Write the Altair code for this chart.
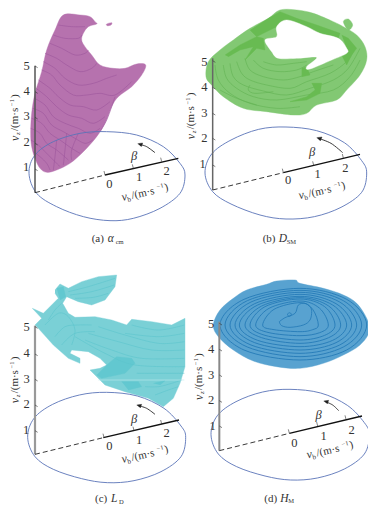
import altair as alt
import pandas as pd

# Frames of the picture the readings below are given in (3x crop units)
ORIGIN = {"a": (0, 0), "b": (186, 0), "c": (0, 260), "d": (186, 260),
          "b2": (200, 5), "c2": (25, 270), "d2": (210, 275)}

BLOB_A = [(190,45),(240,45),(270,50),(285,65),(290,72),(265,80),(250,100),(245,120),(255,140),(275,165),(300,195),(340,205),(375,205),(410,192),(437,195),(425,225),(395,260),(355,290),(335,320),(315,370),(290,410),(250,455),(210,490),(170,510),(140,517),(120,505),(105,475),(95,440),(92,400),(95,340),(105,280),(125,215),(140,150),(165,90)]
BLOB_A2 = [(320,72),(335,68),(333,75),(322,77)]
LINES_A = [
 [(175,75),(215,80),(255,80)],
 [(160,105),(195,115),(235,115),(245,105)],
 [(150,130),(185,145),(225,165),(255,160),(265,150)],
 [(135,160),(170,175),(200,195),(240,215),(275,205),(290,190)],
 [(130,185),(165,205),(195,235),(235,255),(280,250),(320,235),(350,225)],
 [(125,210),(155,225),(180,255),(220,285),(260,285),(300,280),(345,285),(395,245)],
 [(115,240),(150,265),(175,290),(210,315),(250,320),(290,330),(330,305)],
 [(108,265),(140,290),(170,320),(205,345),(245,355),(280,370),(315,350)],
 [(103,295),(135,315),(160,350),(195,370),(235,385),(270,400),(300,385)],
 [(98,325),(130,340),(155,375),(190,395),(225,415),(255,430),(278,420)],
 [(95,355),(125,370),(150,400),(180,420),(215,445),(240,460)],
 [(92,385),(120,400),(140,430),(170,450),(205,480)],
 [(93,420),(115,435),(135,455),(160,480),(180,500)],
 [(100,455),(120,470),(140,490),(150,510)],
 [(170,420),(165,470),(160,510)],
 [(200,400),(195,450),(190,495)],
 [(235,400),(215,450),(215,480)],
 [(345,290),(335,320),(320,360),(300,395)],
]
BLOB_B = [(18,215),(25,170),(60,135),(100,105),(150,70),(205,40),(240,15),(290,15),(340,25),(400,50),(430,65),(470,90),(495,125),(500,165),(480,210),(440,255),(410,285),(350,300),(320,325),(280,330),(200,320),(130,310),(70,275),(35,240)]
BUMP_B = [(430,50),(445,42),(458,60),(445,75)]
PATCHES_B = [
 [(205,40),(240,20),(290,40),(350,60),(420,85),(415,100),(360,85),(320,65),(260,45),(230,65),(190,85),(170,95),(150,75)],
 [(75,150),(120,120),(170,95),(190,100),(195,135),(170,130),(135,165),(160,125),(120,135),(85,155)],
 [(425,90),(445,100),(470,130),(455,150),(440,180),(425,150),(440,130)],
 [(305,190),(320,185),(330,210),(305,215)],
 [(335,235),(365,235),(360,265),(320,285),(270,290),(320,275),(345,255)],
]
HOLE_B = [(260,45),(320,65),(360,85),(415,100),(440,130),(440,145),(395,165),(330,192),(320,185),(350,157),(290,160),(235,160),(215,140),(195,105),(230,95),(230,65)]
LINES_B = [
 [(45,180),(55,225),(90,265),(150,295),(230,310),(300,305)],
 [(70,180),(80,220),(110,250),(160,275),(230,285),(320,270),(400,255),(450,215),(480,165)],
 [(90,175),(100,215),(130,240),(190,258),(260,270),(330,250),(400,225),(445,190),(480,130)],
 [(110,170),(125,205),(150,225),(200,240),(270,250),(320,230),(390,205),(440,170),(460,140)],
 [(135,160),(150,195),(190,215),(250,225),(300,215),(340,200),(400,180)],
 [(160,165),(190,190),(240,200),(290,195),(320,180)],
 [(190,170),(230,180),(280,175),(320,170)],
 [(60,255),(110,280),(170,300)],
 [(150,240),(145,255),(165,265),(220,260)],
]
BLOB_C = [(90,60),(105,42),(130,55),(170,35),(220,20),(275,15),(270,50),(240,90),(200,105),(160,95),(125,80),(113,100),(130,130),(150,142),(210,140),(260,150),(305,165),(320,148),(380,155),(440,165),(480,145),(480,290),(465,340),(445,385),(415,410),(370,385),(300,365),(240,345),(195,300),(225,295),(245,285),(225,265),(190,245),(140,240),(135,250),(165,265),(165,280),(130,265),(85,225),(40,175),(30,165),(50,145),(22,115),(55,130),(85,100),(100,85),(90,70)]
PATCHES_C = [
 [(245,285),(275,260),(320,265),(330,280),(300,310),(230,325),(215,315)],
 [(290,335),(340,335),(350,350),(310,360)],
 [(385,340),(420,332),(405,345)],
 [(95,55),(115,50),(122,80),(105,90)],
]
LINES_C = [
 [(130,65),(190,50),(270,25)],
 [(135,75),(200,65),(268,45)],
 [(150,85),(205,82),(250,70)],
 [(320,165),(400,180),(478,165)],
 [(300,190),(400,200),(478,190)],
 [(220,170),(300,195),(400,220),(478,215)],
 [(190,190),(280,215),(380,240),(478,240)],
 [(180,210),(260,240),(350,265),(478,265)],
 [(150,200),(240,250),(330,285),(478,290)],
 [(335,310),(400,310),(478,310)],
 [(360,350),(400,350),(440,340),(470,330)],
 [(390,375),(430,360),(460,350)],
 [(70,150),(90,120),(110,100)],
 [(60,165),(100,130),(130,140),(150,180),(140,225)],
 [(90,200),(120,170),(160,165),(200,165)],
 [(110,225),(150,190),(210,185)],
]
SEAM_C = [(220,330),(478,330)]
BLOB_D = [(10,150),(30,105),(70,70),(110,45),(170,28),(200,18),(255,15),(270,25),(340,40),(400,60),(440,85),(470,130),(478,170),(450,210),(400,240),(340,265),(270,280),(200,275),(130,258),(70,225),(25,185)]
RINGS_D = [
 [(30,150),(102,73),(270,40),(410,73),(470,150),(410,225),(270,255),(102,225)],
 [(45,150),(112,77),(270,46),(400,77),(455,150),(400,216),(270,245),(112,216)],
 [(60,150),(123,81),(270,52),(389,81),(440,150),(389,210),(270,235),(123,210)],
 [(75,150),(134,86),(270,58),(378,86),(425,150),(378,203),(270,225),(134,203)],
 [(88,150),(143,90),(270,64),(368,90),(410,150),(368,196),(270,215),(143,196)],
 [(105,150),(155,93),(270,68),(356,93),(392,150),(356,188),(270,205),(155,188)],
 [(120,150),(165,95),(270,72),(344,95),(375,150),(344,181),(270,195),(165,181)],
 [(137,150),(177,100),(270,78),(329,100),(355,150),(329,173),(270,182),(177,173)],
 [(158,150),(192,103),(270,83),(308,103),(325,150),(308,164),(270,170),(192,164)],
]
SQUIGGLE_D = [(208,140),(225,128),(255,115),(265,90),(285,85),(300,95),(305,110),(300,135),(280,150),(240,157),(215,152),(208,140)]
SPOT_D = [(232,117),(240,113),(244,120),(236,124),(232,117)]

ELLIPSE_A = [(87,520),(105,465),(160,425),(240,400),(320,395),(410,405),(490,440),(540,490),(555,525),(540,580),(480,625),(400,655),(330,662),(250,650),(170,620),(110,580)]
ELLIPSE_B = [(57,519),(77,462),(135,420),(218,388),(300,381),(392,392),(475,428),(527,482),(542,519),(527,577),(465,622),(385,650),(300,657),(222,645),(135,612),(80,575)]
ELLIPSE_C = [(83,532),(102,475),(158,433),(238,405),(320,397),(412,408),(492,445),(543,498),(557,532),(543,590),(483,635),(402,662),(322,668),(245,656),(160,628),(105,590)]
ELLIPSE_D = [(75,524),(94,467),(150,425),(230,396),(312,388),(404,399),(484,436),(535,488),(550,524),(535,582),(475,627),(394,654),(314,660),(237,648),(152,620),(97,582)]

AXES = {
 "a": dict(top=(105,197), foot=(105,578), zero=(315,525), end=(535,475), w=1.5, col="#555555",
      arrow=[(465,458),(440,440),(418,433)], head=[(413,431),(428,429),(424,440)],
      ticks=[(315,525),(400,505),(485,485)], zt=[198,275,352,430,507],
      zl=[(80,197,"5"),(80,272,"4"),(80,349,"3"),(80,427,"2"),(78,502,"1")],
      bl=[(328,552,"0"),(417,531,"1"),(500,513,"2")], beta=(402,468),
      vz=(44,423), vb=(365,597), cap=(275,718,"(a) ","α","cm")),
 "b": dict(top=(80,175), foot=(80,570), zero=(292,518), end=(522,463), w=1.5, col="#666666",
      arrow=[(470,458),(435,430),(397,415)], head=[(392,413),(408,411),(403,423)],
      ticks=[(292,518),(383,496),(472,474)], zt=[182,262,340,415,495],
      zl=[(55,187,"5"),(55,262,"4"),(55,338,"3"),(55,414,"2"),(50,491,"1")],
      bl=[(306,541,"0"),(395,523,"1"),(478,505,"2")], beta=(378,457),
      vz=(15,418), vb=(338,592), cap=(230,718,"(b) ","D","SM")),
 "c": dict(top=(105,197), foot=(105,583), zero=(310,533), end=(537,480), w=2.2, col="#999999",
      arrow=[(465,463),(440,445),(415,437)], head=[(410,435),(425,433),(421,444)],
      ticks=[(312,533),(402,512),(485,492)], zt=[200,282,358,435,512],
      zl=[(80,201,"5"),(80,280,"4"),(80,356,"3"),(80,433,"2"),(78,509,"1")],
      bl=[(328,558,"0"),(417,539,"1"),(500,520,"2")], beta=(402,477),
      vz=(45,430), vb=(365,603), cap=(285,718,"(c) ","L","D")),
 "d": dict(top=(100,185), foot=(100,572), zero=(310,520), end=(528,468), w=2.0, col="#888888",
      arrow=[(458,452),(440,435),(418,425)], head=[(413,423),(428,421),(424,432)],
      ticks=[(310,520),(395,498),(480,478)], zt=[190,268,345,422,498],
      zl=[(75,193,"5"),(75,267,"4"),(75,345,"3"),(75,420,"2"),(80,497,"1")],
      bl=[(325,550,"0"),(413,529,"1"),(497,511,"2")], beta=(398,465),
      vz=(38,420), vb=(362,590), cap=(235,716,"(d) ","H","M")),
}

X = alt.X("x:Q", scale=alt.Scale(domain=[8, 368]), axis=None)
Y = alt.Y("y:Q", scale=alt.Scale(domain=[505, 8]), axis=None)


def pt(panel, p):
    ox, oy = ORIGIN[panel]
    return ox + p[0] / 3, oy + p[1] / 3


def table(panel, shapes):
    rows = []
    for k, s in enumerate(shapes):
        for i, p in enumerate(s):
            x, y = pt(panel, p)
            rows.append({"x": x, "y": y, "id": k, "i": i})
    return pd.DataFrame(rows)


def fills(panel, shapes, color, curve="linear"):
    return alt.Chart(table(panel, shapes)).mark_line(
        fill=color, stroke=color, strokeWidth=0.4, interpolate=curve
    ).encode(x=X, y=Y, detail="id:N", order="i:Q")


def strokes(panel, shapes, color, width=0.7, curve="monotone", dash=None):
    kw = dict(stroke=color, strokeWidth=width, interpolate=curve)
    if dash:
        kw["strokeDash"] = dash
    return alt.Chart(table(panel, shapes)).mark_line(**kw).encode(
        x=X, y=Y, detail="id:N", order="i:Q"
    )


def texts(rows, size=11, style="normal", angle=0, align="center", color="#333333"):
    return alt.Chart(pd.DataFrame(rows)).mark_text(
        font="Liberation Serif", fontSize=size, fontStyle=style, angle=angle,
        align=align, baseline="middle", color=color
    ).encode(x=X, y=Y, text="t:N")


layers = []

# surfaces
layers += [fills("a", [BLOB_A, BLOB_A2], "#b672ae", "cardinal-closed"),
           strokes("a", LINES_A, "#9c559c", 0.6, "cardinal")]
layers += [fills("b2", [BLOB_B, BUMP_B], "#82c873", "cardinal-closed"),
           strokes("b2", LINES_B, "#62b152", 0.6, "cardinal"),
           fills("b2", PATCHES_B, "#68bb52"),
           fills("b2", [HOLE_B], "#ffffff", "cardinal-closed")]
layers += [fills("c2", [BLOB_C], "#7ad0d6"),
           fills("c2", PATCHES_C, "#62c8d0"),
           strokes("c2", LINES_C, "#5cc4cc", 0.6, "cardinal"),
           strokes("c2", [SEAM_C], "#c0e9ec", 0.6, "linear")]
layers += [fills("d2", [BLOB_D], "#58a2d0", "cardinal-closed"),
           strokes("d2", RINGS_D, "#2279b6", 0.85, "cardinal-closed"),
           strokes("d2", [SQUIGGLE_D, SPOT_D], "#2279b6", 0.8, "cardinal")]

# polar base, axes, labels
ELLIPSES = {"a": ELLIPSE_A, "b": ELLIPSE_B, "c": ELLIPSE_C, "d": ELLIPSE_D}
for key, ax in AXES.items():
    layers.append(strokes(key, [ELLIPSES[key]], "#5a74b8", 0.9, "cardinal-closed"))
    layers.append(strokes(key, [[ax["top"], ax["foot"]]], ax["col"], ax["w"], "linear"))
    layers.append(strokes(key, [[ax["foot"], ax["zero"]]], "#222222", 0.9, "linear", [5, 3]))
    layers.append(strokes(key, [[ax["zero"], ax["end"]]], "#111111", 1.3, "linear"))
    layers.append(strokes(key, [ax["arrow"]], "#222222", 0.9, "cardinal"))
    layers.append(fills(key, [ax["head"]], "#222222"))
    tick_b = [[(x, y), (x - 3, y - 12)] for x, y in ax["ticks"]]
    tick_z = [[(ax["top"][0], z), (ax["top"][0] + 8, z + 5)] for z in ax["zt"]]
    layers.append(strokes(key, tick_b + tick_z, "#333333", 0.6, "linear"))

    nums = []
    for x, y, t in ax["zl"] + ax["bl"]:
        px, py = pt(key, (x, y))
        nums.append({"x": px, "y": py, "t": t})
    layers.append(texts(nums, 12.5))
    bx, by = pt(key, ax["beta"])
    layers.append(texts([{"x": bx, "y": by, "t": "β"}], 12.5, "italic"))

    # rotated vz label, pieces running upward
    zx, zy = pt(key, ax["vz"])
    layers.append(texts([{"x": zx, "y": zy, "t": "v"}], 12, "italic", 270, "left"))
    layers.append(texts([{"x": zx + 3, "y": zy - 6, "t": "z"}], 7, "italic", 270, "left"))
    layers.append(texts([{"x": zx, "y": zy - 10, "t": "/(m·s"}], 11, "normal", 270, "left"))
    layers.append(texts([{"x": zx - 3, "y": zy - 35, "t": "−1"}], 6.5, "normal", 270, "left"))
    layers.append(texts([{"x": zx, "y": zy - 43, "t": ")"}], 11, "normal", 270, "left"))

    # slanted vb label
    vx, vy = pt(key, ax["vb"])
    layers.append(texts([{"x": vx, "y": vy - 2, "t": "v"}], 12, "italic", 347, "left"))
    layers.append(texts([{"x": vx + 6, "y": vy + 1, "t": "b"}], 7, "normal", 347, "left"))
    layers.append(texts([{"x": vx + 10, "y": vy - 3, "t": "/(m·s"}], 11, "normal", 347, "left"))
    layers.append(texts([{"x": vx + 35, "y": vy - 12, "t": "−1"}], 6.5, "normal", 347, "left"))
    layers.append(texts([{"x": vx + 43, "y": vy - 11, "t": ")"}], 11, "normal", 347, "left"))

    # caption
    cx, cy, c0, c1, c2 = ax["cap"]
    px, py = pt(key, (cx, cy))
    layers.append(texts([{"x": px, "y": py, "t": c0}], 11, "normal", 0, "left"))
    layers.append(texts([{"x": px + 16, "y": py, "t": c1}], 11.5, "italic", 0, "left"))
    layers.append(texts([{"x": px + 24, "y": py + 2.5, "t": c2}], 6.5, "normal", 0, "left"))

chart = alt.layer(*layers).properties(
    width=360, height=497, padding=0, autosize="none", background="#ffffff"
).configure_view(stroke=None)

chart.save("out.html", embed_options={"renderer": "svg", "actions": False})
